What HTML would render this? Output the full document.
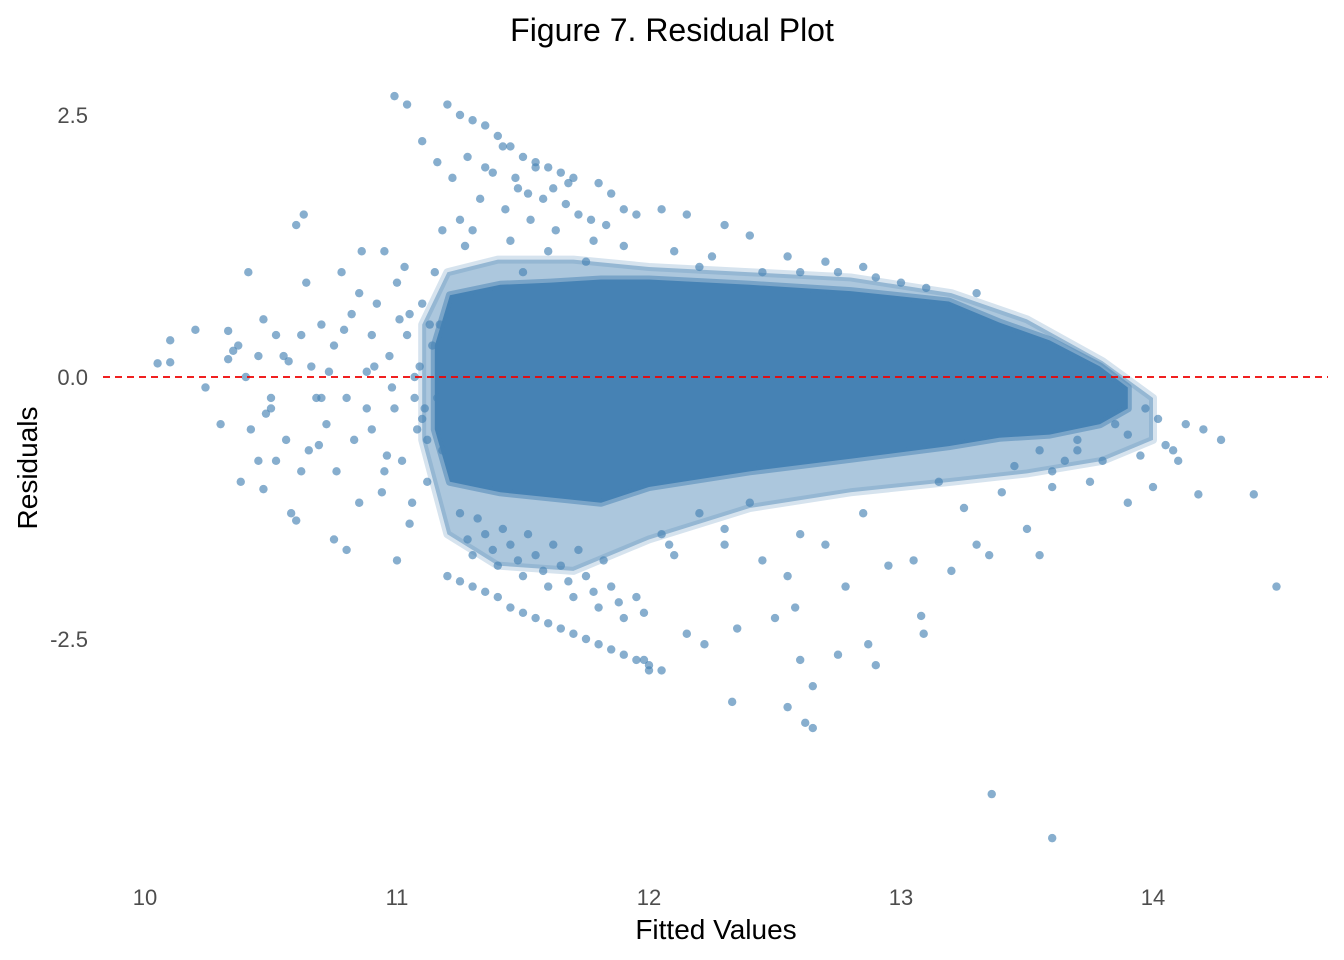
<!DOCTYPE html>
<html><head><meta charset="utf-8"><style>
body{margin:0;background:#fff;}
svg{display:block;font-family:"Liberation Sans",Arial,sans-serif;}
</style></head><body>
<svg id="chart" width="1344" height="960">
<text x="672" y="41" text-anchor="middle" font-size="32" fill="#000">Figure 7. Residual Plot</text>
<g id="core"></g>
<g id="pts"></g>
<g id="axes"></g>
<text x="716" y="939" text-anchor="middle" font-size="28" fill="#000">Fitted Values</text>
<text transform="translate(37,468) rotate(-90)" text-anchor="middle" font-size="28" fill="#000">Residuals</text>
</svg>
<script>
const xTicks=[10,11,12,13,14];
const yTicks=[2.5,0,-2.5];
const yTickLabels=["2.5","0.0","-2.5"];
const outerX=[11.1,11.2,11.4,11.7,12.0,12.4,12.8,13.2,13.5,13.8,14.0];
const outerUpper=[0.5,1.0,1.12,1.12,1.05,1.0,0.95,0.8,0.55,0.15,-0.2];
const outerLower=[-0.6,-1.5,-1.8,-1.85,-1.55,-1.25,-1.1,-1.0,-0.92,-0.8,-0.6];
const coreX=[11.15,11.21,11.41,11.61,11.81,12.0,12.4,12.8,13.19,13.39,13.59,13.79,13.9];
const coreUpper=[0.3,0.78,0.88,0.9,0.93,0.93,0.88,0.82,0.72,0.52,0.35,0.1,-0.1];
const coreLower=[-0.5,-1.0,-1.1,-1.15,-1.2,-1.05,-0.9,-0.78,-0.66,-0.58,-0.55,-0.45,-0.3];
const ptX=[10.05,10.1,10.1,10.2,10.24,10.3,10.33,10.33,10.37,10.38,10.4,10.41,10.42,10.45,10.47,10.47,10.5,10.52,10.55,10.56,10.6,10.6,10.62,10.63,10.65,10.66,10.68,10.7,10.72,10.75,10.76,10.78,10.8,10.82,10.85,10.86,10.88,10.9,10.92,10.94,10.95,10.97,10.99,11.0,11.02,11.04,11.05,11.07,11.08,11.1,11.12,11.14,11.16,11.18,10.58,10.75,10.8,11.0,10.9,10.95,11.05,11.1,11.15,10.85,10.98,11.03,11.12,10.7,10.64,10.52,10.45,10.88,11.07,11.13,10.35,10.48,10.57,10.69,10.79,10.83,10.91,10.96,11.01,11.06,11.09,11.11,11.17,10.73,10.62,10.5,
10.99,11.04,11.1,11.16,11.2,11.25,11.3,11.35,11.4,11.45,11.5,11.55,11.6,11.65,11.7,11.8,11.85,11.9,11.95,12.05,12.15,12.3,12.4,12.55,12.7,12.85,13.0,11.22,11.28,11.33,11.38,11.43,11.48,11.53,11.58,11.63,11.72,11.78,11.9,12.1,12.25,11.3,11.45,11.6,11.75,11.25,11.5,12.2,12.45,12.6,12.75,12.9,13.1,13.3,11.42,11.55,11.68,11.35,11.47,11.52,11.62,11.67,11.77,11.83,11.27,11.18,
11.2,11.25,11.3,11.35,11.4,11.45,11.5,11.55,11.6,11.65,11.7,11.75,11.8,11.85,11.9,11.95,12.0,11.3,11.4,11.5,11.6,11.7,11.8,11.9,11.35,11.45,11.55,11.65,11.75,11.85,11.95,11.25,11.32,11.42,11.52,11.62,11.72,11.82,12.05,12.1,12.2,12.3,12.4,11.28,11.38,11.48,11.58,11.68,11.78,11.88,11.98,12.08,
13.6,13.8,13.9,14.0,14.05,14.1,14.2,14.18,14.27,14.4,14.49,13.36,13.6,12.62,12.65,12.55,12.33,12.65,12.6,12.5,12.58,12.75,12.9,12.87,13.09,13.08,13.35,13.55,13.5,13.3,13.2,12.22,12.35,12.05,11.98,12.0,12.15,12.78,12.95,13.05,13.25,13.4,13.6,13.75,12.45,12.55,12.7,13.9,14.02,13.95,13.7,13.45,13.15,12.85,12.6,12.3,13.85,13.97,14.08,14.13,13.7,13.65,13.55];
const ptY=[0.13,0.35,0.14,0.45,-0.1,-0.45,0.44,0.17,0.3,-1.0,0.0,1.0,-0.5,-0.8,-1.07,0.55,-0.3,0.4,0.2,-0.6,1.45,-1.37,0.4,1.55,-0.7,0.1,-0.2,0.5,-0.45,0.3,-0.9,1.0,-0.2,0.6,-1.2,1.2,0.05,-0.5,0.7,-1.1,1.2,0.2,-0.3,0.9,-0.8,0.4,-1.4,0.0,-0.5,0.7,-1.0,0.3,-0.2,-0.7,-1.3,-1.55,-1.65,-1.75,0.4,-0.9,0.6,-0.4,1.0,0.8,-0.1,1.05,-0.6,-0.2,0.9,-0.8,0.2,-0.3,-0.2,0.5,0.25,-0.35,0.15,-0.65,0.45,-0.6,0.1,-0.75,0.55,-1.2,0.1,-0.3,0.5,0.05,-0.9,-0.2,
2.68,2.6,2.25,2.05,2.6,2.5,2.45,2.4,2.3,2.2,2.1,2.05,2.0,1.95,1.9,1.85,1.75,1.6,1.55,1.6,1.55,1.45,1.35,1.15,1.1,1.05,0.9,1.9,2.1,1.7,1.95,1.6,1.8,1.5,1.7,1.4,1.55,1.3,1.25,1.2,1.15,1.4,1.3,1.2,1.1,1.5,1.0,1.05,1.0,1.0,1.0,0.95,0.85,0.8,2.2,2.0,1.85,2.0,1.9,1.75,1.8,1.65,1.5,1.45,1.25,1.4,
-1.9,-1.95,-2.0,-2.05,-2.1,-2.2,-2.25,-2.3,-2.35,-2.4,-2.45,-2.5,-2.55,-2.6,-2.65,-2.7,-2.75,-1.7,-1.8,-1.9,-2.0,-2.1,-2.2,-2.3,-1.5,-1.6,-1.7,-1.8,-1.9,-2.0,-2.1,-1.3,-1.35,-1.45,-1.5,-1.6,-1.65,-1.75,-1.5,-1.7,-1.3,-1.45,-1.2,-1.55,-1.65,-1.75,-1.85,-1.95,-2.05,-2.15,-2.25,-1.6,
-0.9,-0.8,-1.2,-1.05,-0.65,-0.8,-0.5,-1.12,-0.6,-1.12,-2.0,-3.98,-4.4,-3.3,-3.35,-3.15,-3.1,-2.95,-2.7,-2.3,-2.2,-2.65,-2.75,-2.55,-2.45,-2.28,-1.7,-1.7,-1.45,-1.6,-1.85,-2.55,-2.4,-2.8,-2.7,-2.8,-2.45,-2.0,-1.8,-1.75,-1.25,-1.1,-1.05,-1.0,-1.75,-1.9,-1.6,-0.55,-0.4,-0.75,-0.7,-0.85,-1.0,-1.3,-1.5,-1.6,-0.45,-0.3,-0.7,-0.45,-0.6,-0.8,-0.7];
const NS="http://www.w3.org/2000/svg";
const xS=v=>145+(v-10)*252;
const yS=v=>377-v*104.8;
const svg=document.getElementById('chart');
const axes=document.getElementById('axes');
function mk(t,a,p){const e=document.createElementNS(NS,t);for(const k in a)e.setAttribute(k,a[k]);p.appendChild(e);return e;}
xTicks.forEach(v=>{const t=mk('text',{x:xS(v),y:905,'text-anchor':'middle','font-size':'22',fill:'#4d4d4d'},axes);t.textContent=v;

});
yTicks.forEach((v,i)=>{const t=mk('text',{x:88,y:yS(v)+8,'text-anchor':'end','font-size':'22',fill:'#4d4d4d'},axes);t.textContent=yTickLabels[i];

});
function band(xs,up,lo,op,name){let d='';xs.forEach((x,i)=>{d+=(i?'L':'M')+xS(x)+','+yS(up[i]);});
for(let i=xs.length-1;i>=0;i--)d+='L'+xS(xs[i])+','+yS(lo[i]);
const p=mk('path',{d:d+'Z',fill:'#4682B4','fill-opacity':op,stroke:'#4682B4','stroke-opacity':op*0.5,'stroke-width':'8','stroke-linejoin':'round'},document.getElementById('core'));

}
band(outerX,outerUpper,outerLower,0.45,'medium-density-region');
band(coreX,coreUpper,coreLower,1,'dense-core-region');
const pg=document.getElementById('pts');
ptX.forEach((x,i)=>{const c=mk('circle',{cx:xS(x),cy:yS(ptY[i]),r:4.2,fill:'#4682B4','fill-opacity':'0.65'},pg);

});
const zl=mk('line',{x1:103,x2:1328,y1:yS(0),y2:yS(0),stroke:'#ee0000','stroke-width':'1.8','stroke-dasharray':'7,5'},svg);


</script>
</body></html>
